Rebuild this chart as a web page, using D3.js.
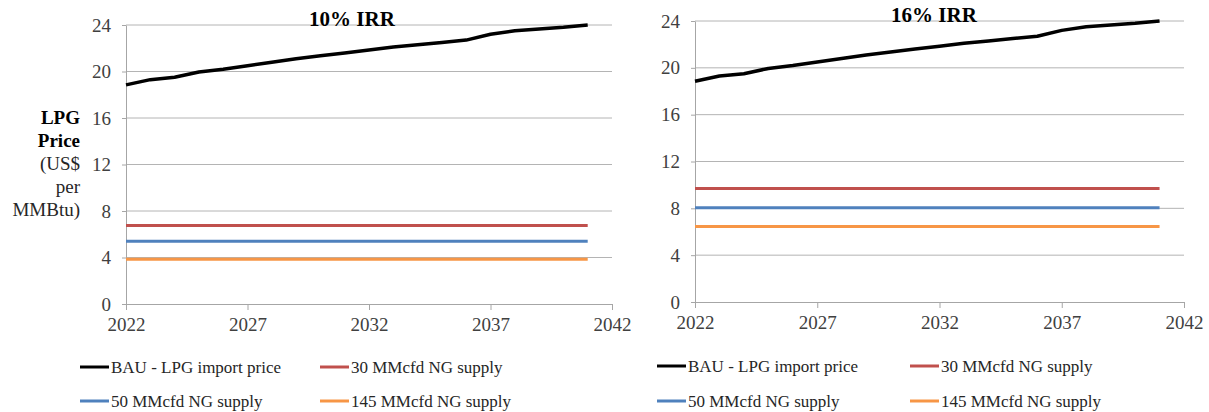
<!DOCTYPE html>
<html>
<head>
<meta charset="utf-8">
<script src="https://cdn.jsdelivr.net/npm/d3@7"></script>
<style>
  html, body { margin: 0; padding: 0; background: #fff; }
  svg { display: block; }
  svg text { font-family: 'Liberation Serif', 'Times New Roman', 'DejaVu Serif', serif !important; }
</style>
</head>
<body>
<svg id="chart" width="1209" height="412"></svg>
<script>
// Years on the x axis
const years = [2022, 2023, 2024, 2025, 2026, 2027, 2028, 2029, 2030, 2031,
               2032, 2033, 2034, 2035, 2036, 2037, 2038, 2039, 2040, 2041];

// BAU LPG import price (US$/MMBtu)
const bauPrice = [18.85, 19.3, 19.5, 19.95, 20.2, 20.5, 20.8, 21.1, 21.35, 21.6,
                  21.85, 22.1, 22.3, 22.5, 22.7, 23.2, 23.5, 23.65, 23.8, 24.0];

// LPG-equivalent price from NG supply, 10% IRR
const ng30Irr10  = [6.75, 6.75, 6.75, 6.75, 6.75, 6.75, 6.75, 6.75, 6.75, 6.75,
                    6.75, 6.75, 6.75, 6.75, 6.75, 6.75, 6.75, 6.75, 6.75, 6.75];
const ng50Irr10  = [5.4, 5.4, 5.4, 5.4, 5.4, 5.4, 5.4, 5.4, 5.4, 5.4,
                    5.4, 5.4, 5.4, 5.4, 5.4, 5.4, 5.4, 5.4, 5.4, 5.4];
const ng145Irr10 = [3.85, 3.85, 3.85, 3.85, 3.85, 3.85, 3.85, 3.85, 3.85, 3.85,
                    3.85, 3.85, 3.85, 3.85, 3.85, 3.85, 3.85, 3.85, 3.85, 3.85];

// LPG-equivalent price from NG supply, 16% IRR
const ng30Irr16  = [9.7, 9.7, 9.7, 9.7, 9.7, 9.7, 9.7, 9.7, 9.7, 9.7,
                    9.7, 9.7, 9.7, 9.7, 9.7, 9.7, 9.7, 9.7, 9.7, 9.7];
const ng50Irr16  = [8.05, 8.05, 8.05, 8.05, 8.05, 8.05, 8.05, 8.05, 8.05, 8.05,
                    8.05, 8.05, 8.05, 8.05, 8.05, 8.05, 8.05, 8.05, 8.05, 8.05];
const ng145Irr16 = [6.45, 6.45, 6.45, 6.45, 6.45, 6.45, 6.45, 6.45, 6.45, 6.45,
                    6.45, 6.45, 6.45, 6.45, 6.45, 6.45, 6.45, 6.45, 6.45, 6.45];

const seriesNames = ["BAU - LPG import price", "30 MMcfd NG supply",
                     "50 MMcfd NG supply", "145 MMcfd NG supply"];
const seriesColors = ["#000000", "#C0504D", "#4F81BD", "#F79646"];

const xTicks = [2022, 2027, 2032, 2037, 2042];
const yTicks = [0, 4, 8, 12, 16, 20, 24];
const panelTitles = ["10% IRR", "16% IRR"];
const yLabelLines = ["LPG", "Price", "(US$", "per", "MMBtu)"];

const FONT = "'Liberation Serif', 'Times New Roman', serif";
const svg = d3.select("#chart");

function drawPanel(opts) {
  const { left, right, top, bottom, title, series, legendX, legendCol2, legendY, yLabel } = opts;
  const g = svg.append("g").attr("font-family", FONT);

  const x = d3.scaleLinear().domain([2022, 2042]).range([left, right]);
  const y = d3.scaleLinear().domain([0, 24]).range([bottom, top]);

  // horizontal gridlines
  g.append("g").selectAll("line")
    .data(yTicks.filter(d => d > 0))
    .join("line")
    .attr("x1", left).attr("x2", right)
    .attr("y1", d => y(d)).attr("y2", d => y(d))
    .attr("stroke", "#b4b4b4").attr("stroke-width", 1);

  // y axis
  const yAxis = g.append("g")
    .attr("transform", `translate(${left},0)`)
    .call(d3.axisLeft(y).tickValues(yTicks).tickSize(4).tickPadding(11).tickSizeOuter(0))
    .attr("font-family", FONT).attr("font-size", 19);
  yAxis.select(".domain").attr("stroke", "#a6a6a6");
  yAxis.selectAll(".tick line").attr("stroke", "#a6a6a6");
  yAxis.selectAll(".tick text").attr("fill", "#404040").attr("font-family", FONT);

  // x axis
  const xAxis = g.append("g")
    .attr("transform", `translate(0,${bottom})`)
    .call(d3.axisBottom(x).tickValues(xTicks).tickFormat(d3.format("d")).tickSize(6).tickPadding(8).tickSizeOuter(0))
    .attr("font-family", FONT).attr("font-size", 19);
  xAxis.select(".domain").attr("stroke", "#a6a6a6");
  xAxis.selectAll(".tick line").attr("stroke", "#a6a6a6");
  xAxis.selectAll(".tick text").attr("fill", "#404040").attr("font-family", FONT);

  // series lines
  const line = d3.line().x((d, i) => x(years[i])).y(d => y(d));
  series.forEach((vals, i) => {
    g.append("path")
      .datum(vals)
      .attr("fill", "none")
      .attr("stroke", seriesColors[i])
      .attr("stroke-width", i === 0 ? 3.5 : 3)
      .attr("stroke-linejoin", "round")
      .attr("d", line);
  });

  // panel title
  g.append("text")
    .attr("x", opts.titleX).attr("y", opts.titleY)
    .attr("text-anchor", "middle")
    .attr("font-family", FONT)
    .attr("font-weight", "bold")
    .attr("font-size", 21)
    .attr("fill", "#000")
    .text(title);

  // y axis label
  if (yLabel) {
    const lab = g.append("text")
      .attr("text-anchor", "end")
      .attr("font-family", FONT)
      .attr("font-size", 19)
      .attr("fill", "#262626");
    yLabelLines.forEach((t, i) => {
      lab.append("tspan")
        .attr("x", 80)
        .attr("y", 124 + i * 23)
        .attr("font-weight", i < 2 ? "bold" : "normal")
        .attr("fill", i < 2 ? "#000" : "#262626")
        .text(t);
    });
  }

  // legend
  const pos = [
    [legendX, legendY[0]], [legendCol2, legendY[0]],
    [legendX, legendY[1]], [legendCol2, legendY[1]]
  ];
  seriesNames.forEach((name, i) => {
    const [lx, ly] = pos[i];
    g.append("line")
      .attr("x1", lx).attr("x2", lx + 29)
      .attr("y1", ly).attr("y2", ly)
      .attr("stroke", seriesColors[i]).attr("stroke-width", 3);
    g.append("text")
      .attr("x", lx + 31).attr("y", ly + 6)
      .attr("font-family", FONT)
      .attr("font-size", 17)
      .attr("fill", "#262626")
      .text(name);
  });
}

drawPanel({
  left: 126, right: 612, top: 25, bottom: 304,
  title: panelTitles[0], titleX: 352, titleY: 26,
  series: [bauPrice, ng30Irr10, ng50Irr10, ng145Irr10],
  legendX: 80, legendCol2: 320, legendY: [367, 401],
  yLabel: true
});

drawPanel({
  left: 695, right: 1184, top: 21, bottom: 302,
  title: panelTitles[1], titleX: 934, titleY: 22,
  series: [bauPrice, ng30Irr16, ng50Irr16, ng145Irr16],
  legendX: 657, legendCol2: 910, legendY: [366, 401],
  yLabel: false
});
</script>
</body>
</html>
